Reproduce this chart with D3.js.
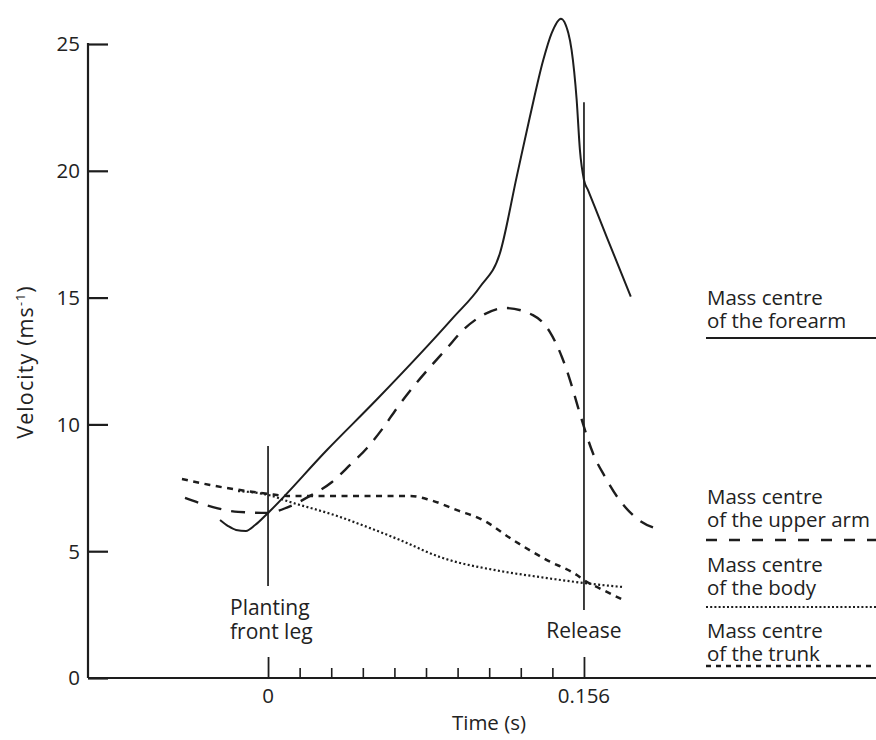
<!DOCTYPE html>
<html>
<head>
<meta charset="utf-8">
<script src="https://cdn.jsdelivr.net/npm/d3@7/dist/d3.min.js"></script>
<style>
  html, body { margin: 0; padding: 0; background: #ffffff; }
  svg text { font-family: "Open Sans", "Noto Sans", sans-serif; fill: #222; }
</style>
</head>
<body>
<svg id="chart" width="876" height="740"></svg>
<script>
// ---------- data ----------
const forearmT = [-0.0237, -0.0197, -0.0158, -0.0109, -0.0064, 0, 0.0291, 0.0538, 0.0913, 0.1047, 0.1145, 0.1228, 0.1293, 0.1359, 0.1400, 0.1446, 0.1483, 0.1499, 0.1524, 0.1540, 0.1560, 0.1580, 0.1675, 0.1791];
const forearmV = [6.23, 5.99, 5.84, 5.80, 6.03, 6.51, 8.99, 10.99, 14.2, 15.43, 16.75, 19.77, 22.13, 24.37, 25.42, 26.0, 25.42, 24.76, 22.79, 20.82, 19.64, 19.24, 17.34, 15.04];

const upperArmT = [-0.0410, -0.0272, -0.0148, 0, 0.0099, 0.0207, 0.0316, 0.0405, 0.0489, 0.0568, 0.0637, 0.0716, 0.0800, 0.0884, 0.0963, 0.1061, 0.1170, 0.1308, 0.1392, 0.1451, 0.1491, 0.1530, 0.1560, 0.1604, 0.1664, 0.1728, 0.1812, 0.1935];
const upperArmV = [7.10, 6.74, 6.55, 6.51, 6.74, 7.18, 7.73, 8.40, 9.07, 9.86, 10.65, 11.47, 12.26, 13.01, 13.72, 14.31, 14.59, 14.31, 13.64, 12.66, 11.75, 10.69, 9.90, 8.87, 7.93, 7.10, 6.35, 5.84];

const bodyT = [-0.0148, 0, 0.0109, 0.0341, 0.0504, 0.0652, 0.0849, 0.1145, 0.1343, 0.1555, 0.1748];
const bodyV = [7.37, 7.22, 6.94, 6.39, 5.91, 5.44, 4.77, 4.22, 3.98, 3.75, 3.59];

const trunkT = [-0.0425, -0.0286, -0.0138, 0, 0.0109, 0.0341, 0.0553, 0.0701, 0.0800, 0.0933, 0.1061, 0.1210, 0.1377, 0.1525, 0.1560, 0.1654, 0.1753];
const trunkV = [7.85, 7.61, 7.41, 7.26, 7.18, 7.18, 7.18, 7.18, 7.02, 6.62, 6.23, 5.44, 4.65, 4.06, 3.86, 3.47, 3.08];

const yTicks = [0, 5, 10, 15, 20, 25];
const xMajorTicks = [0, 0.156];
const xMajorLabels = ["0", "0.156"];
const xMinorTicks = [0.0156, 0.0312, 0.0468, 0.0624, 0.078, 0.0936, 0.1092, 0.1248, 0.1404];

const eventNames = [["Planting", "front leg"], ["Release"]];
const eventT = [0, 0.156];
const eventVTop = [9.15, 22.7];
const eventVBottom = [3.63, 2.68];

const legendLines = [
  ["Mass centre", "of the forearm"],
  ["Mass centre", "of the upper arm"],
  ["Mass centre", "of the body"],
  ["Mass centre", "of the trunk"]
];

// ---------- layout ----------
const svg = d3.select("#chart");
const ink = "#1d1d1d";
const x = d3.scaleLinear().domain([-0.0889, 0.3002]).range([88, 876]);
const y = d3.scaleLinear().domain([0, 25]).range([678, 44]);

const styles = [
  { width: 2.0, dash: null,      legendDash: null },     // forearm solid
  { width: 2.4, dash: "14,10",   legendDash: "11,12" },  // upper arm long dash
  { width: 2.2, dash: "2,2.4",   legendDash: "2,2.2" },  // body dotted
  { width: 2.5, dash: "6,5.5",   legendDash: "5,5" }     // trunk short dash
];

// axes
svg.append("line").attr("x1", x.range()[0]).attr("x2", x.range()[1])
  .attr("y1", y(0)).attr("y2", y(0)).attr("stroke", ink).attr("stroke-width", 2.2);
svg.append("line").attr("x1", x.range()[0]).attr("x2", x.range()[0])
  .attr("y1", y(0)).attr("y2", y(25) - 1).attr("stroke", ink).attr("stroke-width", 2.2);

// y ticks (inward)
const yAxis = d3.axisRight(y).tickValues(yTicks).tickSize(20).tickFormat("");
const gy = svg.append("g").attr("transform", `translate(${x.range()[0]},0)`).call(yAxis);
gy.select(".domain").remove();
gy.selectAll(".tick line").attr("stroke", ink).attr("stroke-width", 2.2);
svg.selectAll(".ylab").data(yTicks).enter().append("text")
  .attr("x", 80).attr("y", d => y(d)).attr("dy", "0.36em")
  .attr("text-anchor", "end").attr("font-size", 20.5).text(d => d);

// x ticks (upward)
const gxMinor = svg.append("g").attr("transform", `translate(0,${y(0)})`)
  .call(d3.axisTop(x).tickValues(xMinorTicks).tickSize(10).tickFormat(""));
gxMinor.select(".domain").remove();
gxMinor.selectAll(".tick line").attr("stroke", ink).attr("stroke-width", 1.6);
const gxMajor = svg.append("g").attr("transform", `translate(0,${y(0)})`)
  .call(d3.axisTop(x).tickValues(xMajorTicks).tickSize(21).tickFormat(""));
gxMajor.select(".domain").remove();
gxMajor.selectAll(".tick line").attr("stroke", ink).attr("stroke-width", 1.8);
svg.selectAll(".xlab").data(xMajorTicks).enter().append("text")
  .attr("x", d => x(d)).attr("y", 703).attr("text-anchor", "middle")
  .attr("font-size", 20.5).text((d, i) => xMajorLabels[i]);

// axis titles
svg.append("text").attr("x", 489).attr("y", 730).attr("text-anchor", "middle")
  .attr("font-size", 20.5).text("Time (s)");
const yt = svg.append("text").attr("transform", "translate(33,362) rotate(-90)")
  .attr("text-anchor", "middle").attr("font-size", 21.5).attr("letter-spacing", 1.1);
yt.append("tspan").text("Velocity (ms");
yt.append("tspan").attr("font-size", 12.5).attr("dy", -8).text("-1");
yt.append("tspan").attr("dy", 8).text(")");

// event lines
eventT.forEach((t, i) => {
  svg.append("line").attr("x1", x(t)).attr("x2", x(t))
    .attr("y1", y(eventVTop[i])).attr("y2", y(eventVBottom[i]))
    .attr("stroke", ink).attr("stroke-width", 1.7);
});
// event labels
svg.append("text").attr("font-size", 21).attr("x", 230).attr("y", 615).text(eventNames[0][0]);
svg.append("text").attr("font-size", 21).attr("x", 230).attr("y", 639).text(eventNames[0][1]);
svg.append("text").attr("font-size", 21).attr("text-anchor", "middle")
  .attr("x", x(eventT[1])).attr("y", 638).text(eventNames[1][0]);

// series
const series = [
  [forearmT, forearmV],
  [upperArmT, upperArmV],
  [bodyT, bodyV],
  [trunkT, trunkV]
];
const line = d3.line().x(d => x(d[0])).y(d => y(d[1])).curve(d3.curveMonotoneX);
series.forEach((s, i) => {
  const pts = s[0].map((t, j) => [t, s[1][j]]);
  const p = svg.append("path").attr("d", line(pts)).attr("fill", "none")
    .attr("stroke", ink).attr("stroke-width", styles[i].width)
    .attr("stroke-linejoin", "round");
  if (styles[i].dash) p.attr("stroke-dasharray", styles[i].dash);
});

// legend
const legendBase = [305, 504, 572, 638];
const legendLineY = [338, 540, 607, 666];
legendLines.forEach((lines, i) => {
  svg.append("text").attr("font-size", 20.5).attr("x", 707).attr("y", legendBase[i]).text(lines[0]);
  svg.append("text").attr("font-size", 20.5).attr("x", 707).attr("y", legendBase[i] + 23).text(lines[1]);
  const l = svg.append("line").attr("x1", 706).attr("x2", 876)
    .attr("y1", legendLineY[i]).attr("y2", legendLineY[i])
    .attr("stroke", ink).attr("stroke-width", styles[i].width);
  if (styles[i].legendDash) l.attr("stroke-dasharray", styles[i].legendDash);
});
</script>
</body>
</html>
